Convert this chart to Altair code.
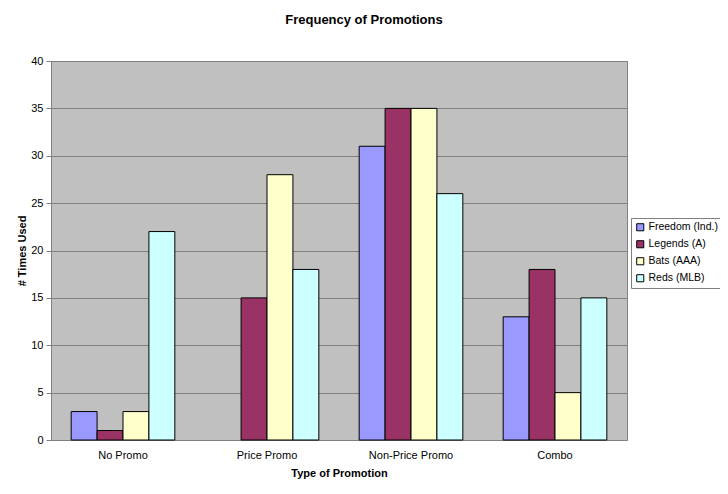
import altair as alt
import pandas as pd

categories = ["No Promo", "Price Promo", "Non-Price Promo", "Combo"]
series = ["Freedom (Ind.)", "Legends (A)", "Bats (AAA)", "Reds (MLB)"]
freedom = [3, 0, 31, 13]
legends = [1, 15, 35, 18]
bats = [3, 28, 35, 5]
reds = [22, 18, 26, 15]
colors = ["#9999ff", "#993366", "#ffffcc", "#ccffff"]

rows = []
for s, vals in zip(series, [freedom, legends, bats, reds]):
    for c, v in zip(categories, vals):
        rows.append({"Type": c, "Series": s, "Value": v})
df = pd.DataFrame(rows)

bars = alt.Chart(df).transform_filter("datum.Value > 0").mark_bar(stroke="black", strokeWidth=1).encode(
    x=alt.X("Type:N", sort=categories, title="Type of Promotion",
            scale=alt.Scale(domain=categories, paddingInner=0.28, paddingOuter=0.14),
            axis=alt.Axis(labelAngle=0, labelFontSize=11, labelColor="black",
                          labelFont="Liberation Sans", titleFont="Liberation Sans",
                          titleFontSize=11, titleFontWeight="bold", titleColor="black",
                          ticks=False, domain=False, labelPadding=9, titlePadding=7)),
    xOffset=alt.XOffset("Series:N", sort=series,
                        scale=alt.Scale(domain=series, paddingInner=0, paddingOuter=0)),
    y=alt.Y("Value:Q", title="# Times Used",
            scale=alt.Scale(domain=[0, 40], nice=False),
            axis=alt.Axis(values=list(range(0, 41, 5)), labelFontSize=11, labelColor="black",
                          labelFont="Liberation Sans", titleFont="Liberation Sans",
                          titleFontSize=11, titleFontWeight="bold", titleColor="black",
                          grid=True, gridColor="#808080", gridWidth=1,
                          domainColor="#808080", tickColor="#808080", tickSize=5,
                          labelPadding=3, titlePadding=3)),
    color=alt.Color("Series:N", sort=series,
                    scale=alt.Scale(domain=series, range=colors),
                    legend=alt.Legend(title=None, orient="none", legendX=580, legendY=157,
                                      symbolType="square", symbolSize=50,
                                      symbolStrokeColor="black", symbolStrokeWidth=1,
                                      labelFontSize=10.5, labelFont="Liberation Sans",
                                      labelColor="black", rowPadding=5, labelOffset=3,
                                      fillColor="white", strokeColor="#808080",
                                      padding=4)),
)

chart = bars.properties(
    width=576, height=379,
    autosize=alt.AutoSizeParams(type="none"),
    padding={"left": 43, "top": 53, "right": 93, "bottom": 46},
    background="white",
    title=alt.TitleParams("Frequency of Promotions", fontSize=13, fontWeight="bold",
                          font="Liberation Sans", color="black", dx=25, offset=28),
).configure_view(fill="#c0c0c0", stroke="#808080", strokeWidth=1)

chart.save("out.html", embed_options={"renderer": "svg", "actions": False})
